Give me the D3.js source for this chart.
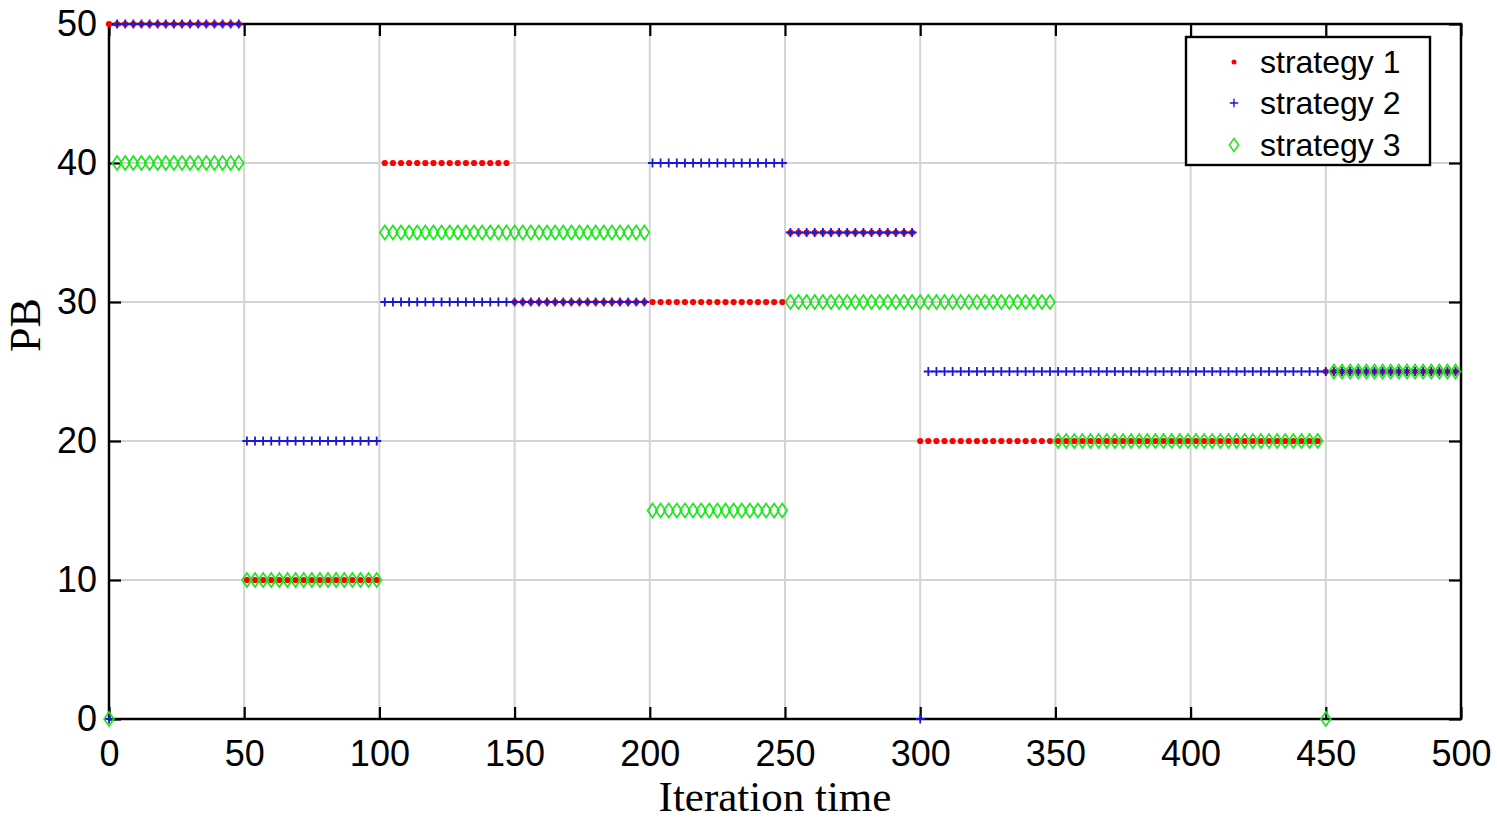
<!DOCTYPE html>
<html>
<head>
<meta charset="utf-8">
<script src="https://cdn.jsdelivr.net/npm/d3@7"></script>
<style>
  html, body { margin: 0; padding: 0; background: #fff; }
  svg { display: block; }
</style>
</head>
<body>
<svg id="chart" width="1497" height="822"></svg>
<script>
// ---------------- data ----------------
const seriesNames = ["strategy 1", "strategy 2", "strategy 3"];
const xTicks = [0, 50, 100, 150, 200, 250, 300, 350, 400, 450, 500];
const yTicks = [0, 10, 20, 30, 40, 50];

// iterations sampled every 3 (marker spacing in the picture)
const iterations = d3.range(0, 499, 3);

// piecewise-constant levels: each level holds from its start iteration
// until the next start
const s1Start = [0, 51, 102, 150, 252, 300, 450];
const s1Value = [50, 10, 40, 30, 35, 20, 25];

const s2Start = [0, 3, 51, 102, 201, 252, 300, 303];
const s2Value = [0, 50, 20, 30, 40, 35, 0, 25];

const s3Start = [0, 3, 51, 102, 201, 252, 351, 450, 453];
const s3Value = [0, 40, 10, 35, 15, 30, 20, 0, 25];

function expand(starts, values) {
  return iterations.map(xv => {
    let v = values[0];
    for (let i = 0; i < starts.length; i++) if (starts[i] <= xv) v = values[i];
    return { x: xv, y: v };
  });
}
const s1 = expand(s1Start, s1Value);
const s2 = expand(s2Start, s2Value);
const s3 = expand(s3Start, s3Value);

// ---------------- layout ----------------
const svg = d3.select("#chart");
const pLeft = 109, pRight = 1461, pTop = 24, pBottom = 719;
const x = d3.scaleLinear().domain([0, 500]).range([pLeft, pRight]);
const y = d3.scaleLinear().domain([0, 50]).range([pBottom, pTop]);
const tickLen = 12;
const tickFont = "'Liberation Sans', Arial, sans-serif";
const serifFont = "'Liberation Serif', 'Times New Roman', serif";

const colRed = "#ff0000", colBlue = "#1a1ad6", colGreen = "#1ee61e";

// grid
const grid = svg.append("g");
grid.selectAll(".gx").data(xTicks.slice(1, -1)).enter().append("line")
  .attr("x1", d => x(d)).attr("x2", d => x(d))
  .attr("y1", pTop).attr("y2", pBottom)
  .attr("stroke", "#d4d4d4").attr("stroke-width", 2);
grid.selectAll(".gy").data(yTicks.slice(1, -1)).enter().append("line")
  .attr("x1", pLeft).attr("x2", pRight)
  .attr("y1", d => y(d)).attr("y2", d => y(d))
  .attr("stroke", "#d4d4d4").attr("stroke-width", 2);

// axes (D3 axes with inward ticks)
const xAxisB = d3.axisBottom(x).tickValues(xTicks).tickSize(-tickLen).tickPadding(21).tickFormat(d3.format("d"));
const yAxisL = d3.axisLeft(y).tickValues(yTicks).tickSize(-tickLen).tickPadding(12).tickFormat(d3.format("d"));
const xAxisT = d3.axisTop(x).tickValues(xTicks).tickSize(-tickLen).tickFormat("");
const yAxisR = d3.axisRight(y).tickValues(yTicks).tickSize(-tickLen).tickFormat("");

function styleAxis(g) {
  g.select(".domain").remove();
  g.selectAll(".tick line").attr("stroke", "#000").attr("stroke-width", 2.2);
  g.selectAll(".tick text").attr("fill", "#000").style("font-family", tickFont).style("font-size", "36px");
}
svg.append("g").attr("transform", `translate(0,${pBottom})`).call(xAxisB).call(styleAxis);
svg.append("g").attr("transform", `translate(${pLeft},0)`).call(yAxisL).call(styleAxis);
svg.append("g").attr("transform", `translate(0,${pTop})`).call(xAxisT).call(styleAxis);
svg.append("g").attr("transform", `translate(${pRight},0)`).call(yAxisR).call(styleAxis);

// box
svg.append("rect").attr("x", pLeft).attr("y", pTop)
  .attr("width", pRight - pLeft).attr("height", pBottom - pTop)
  .attr("fill", "none").attr("stroke", "#000").attr("stroke-width", 2.5);

// ---------------- markers ----------------
const plusPath = s => `M${-s},0H${s}M0,${-s}V${s}`;
const diamondPath = (w, h) => `M0,${-h}L${w},0L0,${h}L${-w},0Z`;

const marks = svg.append("g");
marks.selectAll(".s1").data(s1).enter().append("circle")
  .attr("cx", d => x(d.x)).attr("cy", d => y(d.y)).attr("r", 3.1)
  .attr("fill", colRed);
marks.selectAll(".s2").data(s2).enter().append("path")
  .attr("transform", d => `translate(${x(d.x)},${y(d.y)})`)
  .attr("d", plusPath(4.6)).attr("fill", "none")
  .attr("stroke", colBlue).attr("stroke-width", 1.8);
marks.selectAll(".s3").data(s3).enter().append("path")
  .attr("transform", d => `translate(${x(d.x)},${y(d.y)})`)
  .attr("d", diamondPath(4.9, 7)).attr("fill", "none")
  .attr("stroke", colGreen).attr("stroke-width", 1.7);

// ---------------- axis labels ----------------
svg.append("text").attr("x", 775).attr("y", 811)
  .attr("text-anchor", "middle").style("font-family", serifFont)
  .style("font-size", "43px").attr("fill", "#000").text("Iteration time");
svg.append("text").attr("transform", `translate(40,325) rotate(-90)`)
  .attr("text-anchor", "middle").style("font-family", serifFont)
  .style("font-size", "44px").attr("fill", "#000").text("PB");

// ---------------- legend ----------------
const lg = svg.append("g");
lg.append("rect").attr("x", 1186).attr("y", 37).attr("width", 244).attr("height", 128)
  .attr("fill", "#fff").attr("stroke", "#000").attr("stroke-width", 2.4);
const rowY = [62, 103, 145];
const lgItems = lg.selectAll(".item").data(seriesNames).enter().append("g")
  .attr("transform", (d, i) => `translate(1234,${rowY[i]})`);
lgItems.append("text").attr("x", 26).attr("dy", "0.35em")
  .style("font-family", tickFont).style("font-size", "32px").attr("fill", "#000")
  .text(d => d);
lgItems.filter((d, i) => i === 0).append("circle").attr("r", 2.5).attr("fill", colRed);
lgItems.filter((d, i) => i === 1).append("path").attr("d", plusPath(4.2))
  .attr("stroke", colBlue).attr("stroke-width", 1.4).attr("fill", "none");
lgItems.filter((d, i) => i === 2).append("path").attr("d", diamondPath(4.6, 6.5))
  .attr("stroke", colGreen).attr("stroke-width", 1.5).attr("fill", "none");
</script>
</body>
</html>
